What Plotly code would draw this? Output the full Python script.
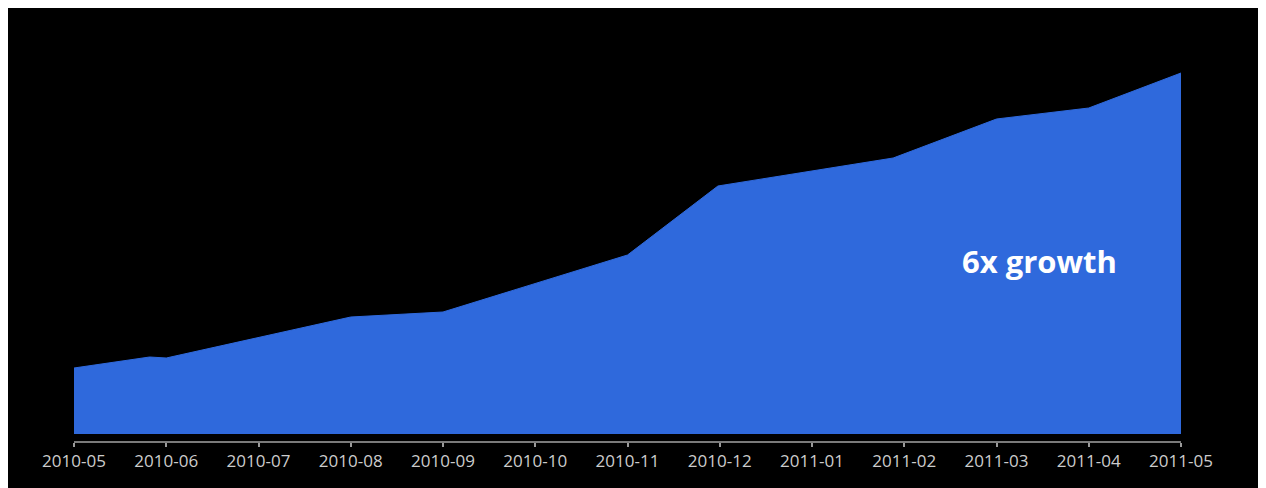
import plotly.graph_objects as go

# Month tick labels (evenly spaced, one per month)
months = ["2010-05", "2010-06", "2010-07", "2010-08", "2010-09", "2010-10", "2010-11",
          "2010-12", "2011-01", "2011-02", "2011-03", "2011-04", "2011-05"]
month_pos = list(range(len(months)))

# Data points (position in month units, value in arbitrary units)
point_pos = [0.0, 0.82, 1.0, 3.0, 4.0, 6.0, 6.98, 8.88, 10.0, 11.0, 12.0]
point_val = [66, 77, 76, 117, 122, 179, 248, 276, 315, 326, 361]

annotation_text = "6x growth"
annotation_x = 10.47
annotation_y = 173

fig = go.Figure()
fig.add_trace(go.Scatter(
    x=point_pos, y=point_val, mode="lines", fill="tozeroy",
    line=dict(color="#2f69dc", width=1), fillcolor="#2f69dc",
    hoverinfo="skip", showlegend=False,
))

fig.add_annotation(
    x=annotation_x, y=annotation_y, xref="x", yref="y",
    text=annotation_text, showarrow=False,
    font=dict(family="Open Sans", size=31, color="white", weight="bold"),
    xanchor="center", yanchor="middle",
)

fig.update_layout(
    width=1250, height=480,
    margin=dict(l=66, r=77, t=22, b=47),
    paper_bgcolor="black", plot_bgcolor="black",
    xaxis=dict(
        range=[0, 12], tickvals=month_pos, ticktext=months,
        showgrid=False, zeroline=False,
        showline=True, linecolor="#7a7a7a", linewidth=2,
        ticks="outside", ticklen=4, tickwidth=2, tickcolor="#9a9a9a",
        tickfont=dict(family="Open Sans", size=17, color="#cccccc"),
    ),
    yaxis=dict(range=[-7, 404], visible=False),
)

fig.write_html("out.html")
